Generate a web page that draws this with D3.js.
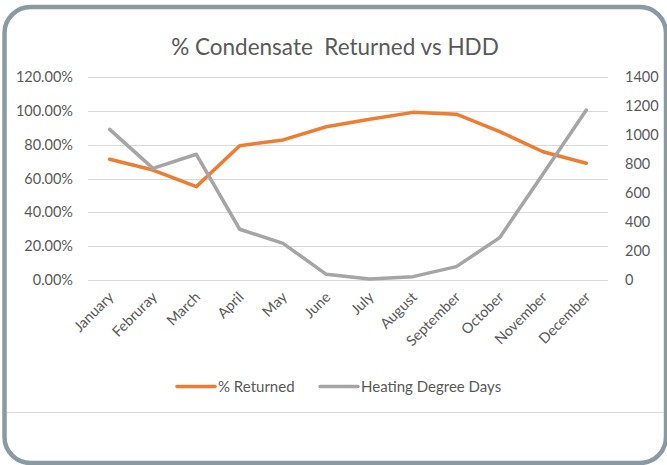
<!DOCTYPE html>
<html>
<head>
<meta charset="utf-8">
<script src="https://cdn.jsdelivr.net/npm/d3@7"></script>
<style>
  body { margin: 0; background: #fff; }
  svg { display: block; font-family: Lato, "Open Sans", sans-serif; }
</style>
</head>
<body>
<div id="container"></div>
<script>
const width = 667;
const height = 465;

// DATA
const months = ["January", "Februray", "March", "April", "May", "June",
    "July", "August", "September", "October", "November", "December"];
const pctReturned = [71.4, 65.0, 55.2, 79.4, 82.8, 90.6, 95.0, 99.1, 98.0, 87.7, 75.8, 69.0];
const hdd = [1039, 770, 867, 350, 253, 39, 7, 23, 92, 292, 731, 1172];
const leftTicks = [0, 20, 40, 60, 80, 100, 120];
const rightTicks = [0, 200, 400, 600, 800, 1000, 1200, 1400];

const plot = {left: 88, right: 608, top: 77, bottom: 280};

const svg = d3.select("div#container").append("svg")
    .attr("width", width)
    .attr("height", height);

// FRAME
svg.append("rect")
    .attr("x", 4.5).attr("y", 7)
    .attr("width", 661.5).attr("height", 456)
    .attr("rx", 26).attr("ry", 26)
    .attr("fill", "#fff")
    .attr("stroke", "#8a9aa2")
    .attr("stroke-width", 4.5);

svg.append("line")
    .attr("x1", 7).attr("x2", 664)
    .attr("y1", 412.5).attr("y2", 412.5)
    .attr("stroke", "#d9d9d9")
    .attr("stroke-width", 1);

// TITLE
svg.append("text")
    .attr("x", 335).attr("y", 55)
    .attr("text-anchor", "middle")
    .attr("fill", "#595959")
    .style("font-size", "22.5px")
    .style("white-space", "pre")
    .text("% Condensate  Returned vs HDD");

// SCALES
const xScale = d3.scaleBand().domain(months).range([plot.left, plot.right]);
const yLeft = d3.scaleLinear().domain([0, 120]).range([plot.bottom, plot.top]);
const yRight = d3.scaleLinear().domain([0, 1400]).range([plot.bottom, plot.top]);
const xMid = d => xScale(d) + xScale.bandwidth() / 2;

// GRID
svg.append("g")
    .selectAll("line")
    .data(leftTicks)
    .enter()
    .append("line")
    .attr("x1", plot.left).attr("x2", plot.right)
    .attr("y1", d => Math.round(yLeft(d)) + 0.5)
    .attr("y2", d => Math.round(yLeft(d)) + 0.5)
    .attr("stroke", "#d9d9d9")
    .attr("stroke-width", 1);

// AXES
const leftAxis = d3.axisLeft(yLeft)
    .tickValues(leftTicks)
    .tickSize(0)
    .tickPadding(15)
    .tickFormat(d => d.toFixed(2) + "%");

const rightAxis = d3.axisRight(yRight)
    .tickValues(rightTicks)
    .tickSize(0)
    .tickPadding(17)
    .tickFormat(d3.format("d"));

const gl = svg.append("g")
    .attr("transform", "translate(" + plot.left + ",0)")
    .call(leftAxis);
const gr = svg.append("g")
    .attr("transform", "translate(" + plot.right + ",0)")
    .call(rightAxis);

[gl, gr].forEach(g => {
    g.select(".domain").remove();
    g.selectAll("text")
        .attr("fill", "#595959")
        .style("font-size", "14.5px")
        .style("font-family", "Lato, sans-serif");
});

const xAxis = d3.axisBottom(xScale).tickSize(0);
const gx = svg.append("g")
    .attr("transform", "translate(0," + plot.bottom + ")")
    .call(xAxis);
gx.select(".domain").remove();
gx.selectAll("text")
    .attr("fill", "#595959")
    .style("font-size", "14.5px")
    .style("font-family", "Lato, sans-serif")
    .attr("text-anchor", "end")
    .attr("y", 0).attr("dy", 0)
    .attr("transform", "translate(5,18) rotate(-45)");

// LINES
const line = d3.line()
    .x((d, i) => xMid(months[i]));

svg.append("path")
    .datum(pctReturned)
    .attr("fill", "none")
    .attr("stroke", "#ed7d31")
    .attr("stroke-width", 3.5)
    .attr("stroke-linejoin", "round")
    .attr("stroke-linecap", "round")
    .attr("d", line.y(d => yLeft(d)));

svg.append("path")
    .datum(hdd)
    .attr("fill", "none")
    .attr("stroke", "#a5a5a5")
    .attr("stroke-width", 3.5)
    .attr("stroke-linejoin", "round")
    .attr("stroke-linecap", "round")
    .attr("d", line.y(d => yRight(d)));

// LEGEND
const legendItems = [
    {name: "% Returned", color: "#ed7d31", x: 177},
    {name: "Heating Degree Days", color: "#a5a5a5", x: 320}
];
const legend = svg.append("g")
    .selectAll("g")
    .data(legendItems)
    .enter()
    .append("g")
    .attr("transform", d => "translate(" + d.x + ",386.5)");

legend.append("line")
    .attr("x1", 0).attr("x2", 38)
    .attr("stroke", d => d.color)
    .attr("stroke-width", 3.5)
    .attr("stroke-linecap", "round");

legend.append("text")
    .attr("x", 41)
    .attr("dy", "0.36em")
    .attr("fill", "#595959")
    .style("font-size", "15px")
    .text(d => d.name);
</script>
</body>
</html>
